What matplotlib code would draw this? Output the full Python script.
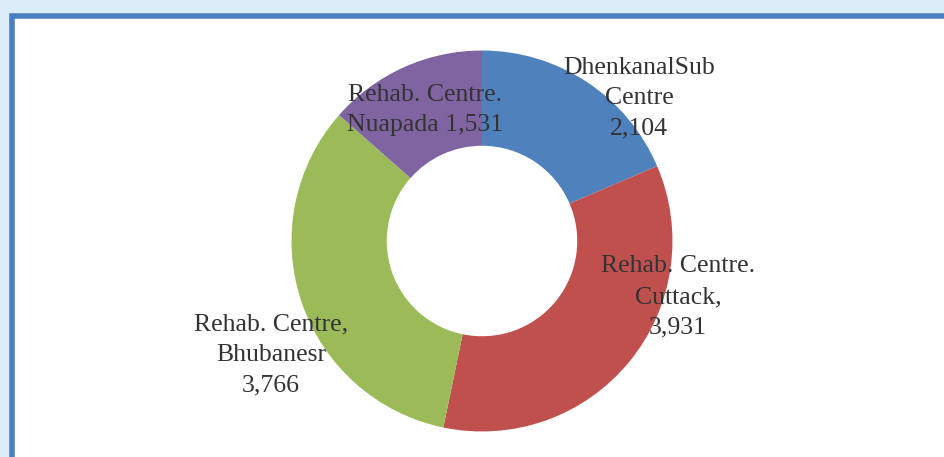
import matplotlib.pyplot as plt
from matplotlib.patches import Rectangle

centres = ["DhenkanalSub\nCentre", "Rehab. Centre.\nCuttack,", "Rehab. Centre,\nBhubanesr",
           "Rehab. Centre.\nNuapada"]
counts = [2104, 3931, 3766, 1531]
colors = ["#4f81bd", "#c0504d", "#9bbb59", "#8064a2"]
seps = ["\n", "\n", "\n", " "]

# where each label sits (data coords, radius 1 = outer edge)
label_pos = [(0.824, 0.75), (1.029, -0.294), (-1.108, -0.598), (-0.299, 0.688)]

fig = plt.figure(figsize=(9.45, 4.57), dpi=100, facecolor="#dcebf8")
frame = Rectangle((12.5 / 945, -0.1), 1.0, 1 - 15.5 / 457 + 0.1, transform=fig.transFigure,
                  facecolor="white", edgecolor="#4a7fc0", linewidth=4, clip_on=False,
                  zorder=-1)
fig.patches.append(frame)

ax = fig.add_axes([(482 - 200) / 945, (457 - 241 - 200) / 457, 400 / 945, 400 / 457])
ax.pie(counts, colors=colors, startangle=90, counterclock=False,
       wedgeprops=dict(width=0.5, edgecolor="none"))
ax.set_xlim(-1.05, 1.05)
ax.set_ylim(-1.05, 1.05)
ax.set_aspect("equal")
ax.axis("off")

for name, n, sep, (x, y) in zip(centres, counts, seps, label_pos):
    ax.text(x, y, f"{name}{sep}{n:,}", ha="center", va="center", fontsize=18.5,
            family="Liberation Serif", color="#333333", linespacing=1.5)

fig.savefig("out.png", dpi=100, facecolor=fig.get_facecolor())
